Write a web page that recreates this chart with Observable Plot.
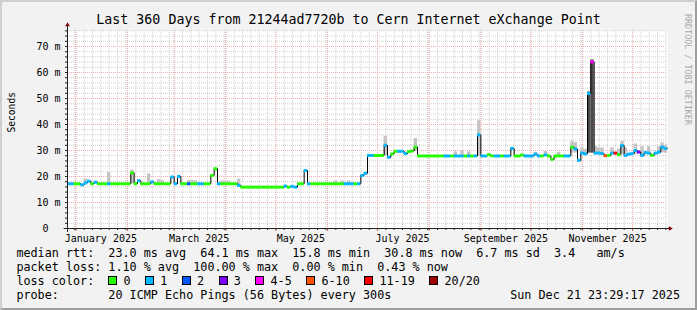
<!DOCTYPE html>
<html>
<head>
<meta charset="utf-8">
<script src="https://cdn.jsdelivr.net/npm/d3@7"></script>
<script src="https://cdn.jsdelivr.net/npm/@observablehq/plot@0.6"></script>
<style>
  html, body { margin: 0; padding: 0; background: #f2f2f2; }
  #wrap { position: relative; width: 697px; height: 310px; overflow: hidden; background: #f2f2f2;
          font-family: "DejaVu Sans Mono", monospace; color: #000; }
  #wrap svg { position: absolute; left: 0; top: 0; }
  .t { position: absolute; white-space: pre; line-height: 1; }
  .box { display: inline-block; width: 7px; height: 7px; border: 1px solid #000; margin-right: 6.1px; vertical-align: 0; }
  .lbl { margin-right: 14.6px; }
  #frame { position: absolute; left: 0; top: 0; width: 697px; height: 310px; box-sizing: border-box;
           border-top: 2px solid #cfcfcf; border-left: 2px solid #cfcfcf;
           border-right: 2px solid #9e9e9e; border-bottom: 2px solid #9e9e9e; pointer-events: none; }
</style>
</head>
<body>
<div id="wrap"></div>
<script>
// ---------------- data ----------------
const titleText = "Last 360 Days from 21244ad7720b to Cern Internet eXchange Point";
const endTime = new Date(Date.UTC(2025, 11, 21, 23, 29, 17));
const spanDays = 360;
const stepDays = 2;

// median RTT (ms), one value per 2-day sample
const medianMs = [
  17.2,17.2,17.2,17.2,16.8,17.5,18.2,17.2,17.8,17.2,
  17.2,17.2,17.2,17.2,17.2,17.2,17.2,17.2,17.2,21.4,
  17.2,18.4,17.2,17.2,17.2,17.9,17.2,17.2,17.2,17.2,
  17.2,19.8,17.2,20.0,17.2,17.2,17.2,17.2,17.2,17.2,
  17.2,17.2,17.2,20.4,23.0,17.2,17.2,17.2,17.2,17.2,
  17.2,16.6,15.9,15.9,15.9,15.9,15.9,15.9,15.9,15.9,
  15.9,15.9,15.9,15.9,15.9,16.3,15.9,16.2,15.9,17.2,
  17.2,22.3,17.2,17.2,17.2,17.2,17.2,17.2,17.2,17.2,
  17.2,17.2,17.2,17.2,17.2,17.2,17.2,17.2,20.4,21.2,
  28.1,28.1,28.1,28.1,28.1,32.0,27.4,28.7,29.7,29.7,
  29.7,28.8,29.6,29.8,31.3,27.9,27.9,27.9,27.9,27.9,
  27.9,27.9,27.9,27.9,27.9,27.9,27.9,27.9,27.9,27.9,
  27.9,27.9,27.9,36.0,27.9,27.9,28.4,27.9,27.9,27.9,
  27.9,27.9,27.9,30.8,27.9,27.9,28.3,27.9,27.9,27.9,
  28.6,27.9,27.9,28.3,27.9,26.6,27.9,27.9,27.9,27.9,
  27.9,31.3,30.6,26.2,29.0,28.7,51.9,64.1,29.0,29.0,
  28.8,28.0,28.1,29.0,29.0,28.4,31.9,28.1,28.6,28.8,
  30.0,29.4,28.1,29.2,29.0,28.1,29.0,29.4,31.3,30.8
];
// packet-loss class per sample (index into lossLabels / lossColors)
const lossClass = [
  1,1,0,0,1,1,1,0,1,0,
  0,0,1,0,0,0,0,0,0,0,
  0,1,0,0,0,1,0,0,0,0,
  0,1,1,1,0,0,2,0,0,1,
  1,0,0,0,0,1,0,0,0,0,
  0,1,0,0,0,0,0,0,0,0,
  0,0,0,0,0,1,0,1,1,0,
  0,1,1,0,0,0,0,0,0,0,
  0,0,0,1,1,1,0,1,1,1,
  1,1,0,0,0,1,1,0,0,1,
  1,1,0,0,0,0,0,0,0,0,
  0,0,0,1,1,0,1,1,1,0,
  1,0,1,1,1,1,0,0,1,1,
  0,1,1,1,0,0,0,1,1,1,
  1,1,0,1,0,0,0,0,0,1,
  1,0,1,1,1,1,1,4,1,1,
  1,5,0,1,6,0,1,1,1,1,
  1,3,1,1,1,0,1,1,1,1
];
const lossLabels = ["0","1","2","3","4-5","6-10","11-19","20/20"];
const lossColors = ["#26ff00","#00b8ff","#0059ff","#7e00ff","#ff00ff","#ff5500","#ff0000","#a00000"];

// smoke (ping spread) for samples where it is visible
const smokeIdx = [
  5,12,19,24,27,28,36,37,38,46,
  47,48,51,80,82,84,95,104,116,118,
  120,123,140,143,147,151,152,154,155,156,
  157,158,159,160,163,165,166,167,170,172,
  174,177,178,179
];
const smokeLo = [
  17.5,17.2,17.2,17.2,17.2,17.2,17.2,17.2,17.2,17.2,
  17.2,17.2,16.6,17.2,17.2,17.2,28.1,29.8,27.9,27.9,
  27.9,27.9,27.9,27.9,27.9,29.0,29.0,28.5,28.5,29.0,
  29.0,28.5,28.5,28.5,28.5,28.2,28.5,28.1,28.5,28.1,
  28.5,28.5,29.0,29.0
];
const smokeHi = [
  19.0,21.5,22.5,21.0,18.8,18.5,18.5,18.5,18.3,18.3,
  18.0,18.2,19.0,18.3,18.3,18.3,35.5,34.6,29.5,30.0,
  29.5,41.5,29.3,29.6,29.3,33.5,33.0,31.0,30.5,52.5,
  64.8,31.5,31.0,31.0,31.0,30.5,33.5,31.0,32.5,31.5,
  31.5,31.5,33.0,32.0
];

const yTicks = [0, 10, 20, 30, 40, 50, 60, 70];
const yUnit = "m";
const xTickMonths = ["2025-01-01","2025-03-01","2025-05-01","2025-07-01","2025-09-01","2025-11-01"];
const xTickLabels = ["January 2025","March 2025","May 2025","July 2025","September 2025","November 2025"];
const yAxisTitle = "Seconds";

const legendRow1 = "median rtt:  23.0 ms avg  64.1 ms max  15.8 ms min  30.8 ms now  6.7 ms sd  3.4   am/s";
const legendRow2 = "packet loss: 1.10 % avg  100.00 % max  0.00 % min  0.43 % now";
const legendRow3Head = "loss color:";
const legendRow4 = "probe:       20 ICMP Echo Pings (56 Bytes) every 300s";
const stampText = "Sun Dec 21 23:29:17 2025";
const watermarkText = "RRDTOOL / TOBI OETIKER";

// ---------------- derived ----------------
const dayMs = 864e5;
const start = new Date(endTime.getTime() - spanDays * dayMs);
const samples = medianMs.map((v, i) => ({
  t0: new Date(start.getTime() + i * stepDays * dayMs),
  t1: new Date(start.getTime() + (i + 1) * stepDays * dayMs),
  v, loss: lossClass[i]
}));
const stepPts = samples.map(d => ({t: d.t0, v: d.v}))
  .concat([{t: samples[samples.length - 1].t1, v: medianMs[medianMs.length - 1]}]);
const smoke = smokeIdx.map((i, k) => ({t0: samples[i].t0, t1: samples[i].t1, lo: smokeLo[k], hi: smokeHi[k]}));
const monthStarts = d3.utcMonth.range(d3.utcMonth.ceil(start), endTime);
const minorDates = d3.utcDay.every(5).range(start, endTime);
const labelDates = xTickMonths.map(s => new Date(new Date(s).getTime() + 15 * dayMs));
const yMax = 76.15;

const chart = Plot.plot({
  width: 697, height: 310,
  marginLeft: 67, marginRight: 30, marginTop: 30, marginBottom: 82,
  style: {background: "transparent", fontFamily: "'DejaVu Sans Mono', monospace", fontSize: "10px", overflow: "visible"},
  x: {type: "utc", domain: [start, endTime], label: null},
  y: {domain: [0, yMax], label: null},
  marks: [
    Plot.frame({fill: "#ffffff", stroke: "none"}),
    Plot.ruleX(minorDates, {stroke: "#cfcfcf", strokeDasharray: "1,1"}),
    Plot.ruleY(d3.range(2, yMax, 2), {stroke: "#cfcfcf", strokeDasharray: "1,1"}),
    Plot.ruleX(monthStarts, {stroke: "#f2a9a9", strokeDasharray: "1,1"}),
    Plot.ruleY(yTicks.filter(v => v > 0), {stroke: "#f2a9a9", strokeDasharray: "1,1"}),
    Plot.rect(smoke, {x1: "t0", x2: "t1", y1: "lo", y2: "hi", fill: d => d.hi - d.lo > 15 ? "#4a4a4a" : "#c4c4c4"}),
    Plot.line(stepPts, {x: "t", y: "v", curve: "step-after", stroke: "#000", strokeWidth: 1}),
    Plot.ruleY(samples, {y: "v", x1: "t0", x2: "t1", stroke: d => lossColors[d.loss], strokeWidth: 3}),
    // axes
    Plot.axisY({ticks: d3.range(0, yMax, 2), tickSize: 2, tickFormat: () => "", stroke: "#212121"}),
    Plot.axisY({ticks: yTicks, tickSize: 0, tickPadding: 7,
      tickFormat: d => d === 0 ? "0\u00a0\u00a0" : `${d} ${yUnit}`}),
    Plot.axisX({ticks: minorDates, tickSize: 2, tickFormat: () => "", stroke: "#212121"}),
    Plot.axisX({ticks: monthStarts, tickSize: 3, tickFormat: () => "", stroke: "#e06060"}),
    Plot.axisX({ticks: labelDates, tickSize: 0, tickPadding: 6, tickFormat: (d, i) => xTickLabels[i]}),
    Plot.ruleY([0], {x1: new Date(start.getTime() - 2 * dayMs), x2: new Date(endTime.getTime() + 2 * dayMs), stroke: "#212121"}),
    Plot.ruleX([start], {y1: -1.5, y2: 78.4, stroke: "#212121"}),
    Plot.dot([{t: start, v: 78.3}], {x: "t", y: "v", symbol: "triangle2", r: 2.2, fill: "#7f0000", stroke: "none"}),
    Plot.dot([{t: new Date(endTime.getTime() + 1.6 * dayMs), v: 0}], {x: "t", y: "v", symbol: "triangle2", r: 2.2, rotate: 90, fill: "#7f0000", stroke: "none"}),
    Plot.text([yAxisTitle], {frameAnchor: "left", dx: -56, dy: 3, rotate: -90, fontSize: 9.6, fill: "#000"})
  ]
});

const wrap = document.getElementById("wrap");
wrap.appendChild(chart);

function addText(txt, left, baseline, size, extra) {
  const el = document.createElement("div");
  el.className = "t";
  el.textContent = txt;
  el.style.fontSize = size + "px";
  el.style.top = (baseline - 0.846 * size) + "px";
  if (left !== null) el.style.left = left + "px";
  if (extra) Object.assign(el.style, extra);
  wrap.appendChild(el);
  return el;
}

const LF = 11.75;
addText(titleText, 0, 24, 13.3, {width: "697px", textAlign: "center"});
addText(legendRow1, 16.4, 258, LF);
addText(legendRow2, 16.4, 272, LF);
addText(legendRow3Head, 16.4, 286, LF);
addText(legendRow4, 16.4, 300, LF);
addText(stampText, null, 300, LF, {right: "17px"});

// loss colour legend row
const row3 = addText("", 108.4, 286, LF);
lossLabels.forEach((lab, i) => {
  const b = document.createElement("span");
  b.className = "box";
  b.style.background = lossColors[i];
  row3.appendChild(b);
  const s = document.createElement("span");
  s.className = "lbl";
  s.textContent = lab;
  row3.appendChild(s);
});

// watermark
const wm = document.createElement("div");
wm.className = "t";
wm.textContent = watermarkText;
Object.assign(wm.style, {writingMode: "vertical-rl", fontSize: "8.4px", color: "#a8a8a8", left: "684px", top: "14px"});
wrap.appendChild(wm);

const fr = document.createElement("div");
fr.id = "frame";
wrap.appendChild(fr);
</script>
</body>
</html>
